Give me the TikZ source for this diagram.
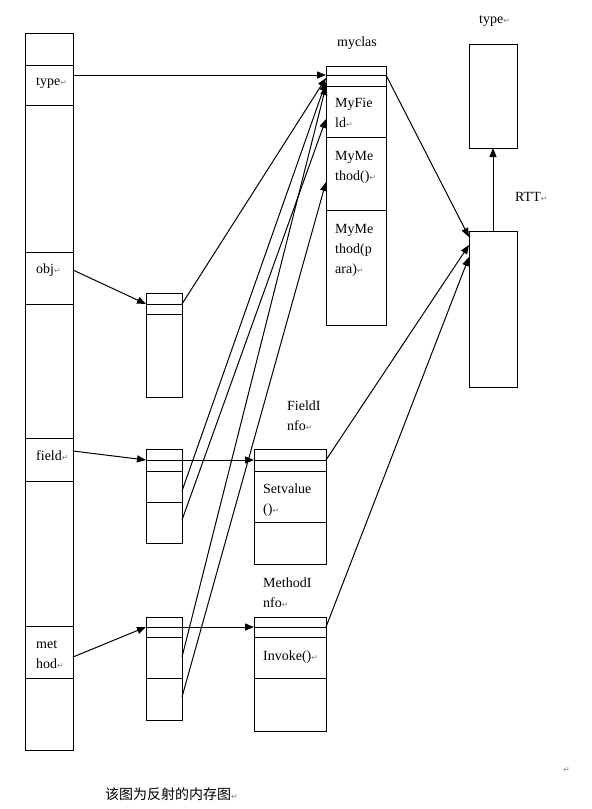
\documentclass[tikz,border=0pt]{standalone}
\usepackage{fontspec}
\setmainfont{Liberation Serif}
\newfontfamily\cjkfont{Noto Sans CJK SC}
\newfontfamily\symfont{DejaVu Sans}
\usetikzlibrary{arrows.meta}
\newcommand\retmark{{\color{gray}\symfont\fontsize{8}{8}\selectfont ↵}}
\begin{document}
\begin{tikzpicture}[x=1pt,y=-1pt,
  box/.style={draw,line width=1pt,anchor=north west,inner sep=0,outer sep=0},
  div/.style={line width=1pt},
  txt/.style={anchor=base west,inner sep=0,font=\fontsize{14}{20}\selectfont},
  arr/.style={line width=1pt,-{Triangle[length=9pt,width=7pt]}},
  ln/.style={line width=1pt}]
\useasboundingbox (0,0) rectangle (592,809);
% boxes
\node[box,minimum width=48pt,minimum height=717pt] (L) at (25,33) {};
\node[box,minimum width=60pt,minimum height=259pt] (M) at (326,66) {};
\node[box,minimum width=48pt,minimum height=104pt] (T) at (469,44) {};
\node[box,minimum width=48pt,minimum height=156pt] (R) at (469,231) {};
\node[box,minimum width=36pt,minimum height=104pt] (O) at (146,293) {};
\node[box,minimum width=36pt,minimum height=94pt] (F) at (146,449) {};
\node[box,minimum width=72pt,minimum height=115pt] (FI) at (254,449) {};
\node[box,minimum width=36pt,minimum height=103pt] (Mb) at (146,617) {};
\node[box,minimum width=72pt,minimum height=114pt] (MI) at (254,617) {};
% dividers
\foreach \y in {65,105,252,304,438,481,626,678} \draw[div] (25,\y) -- (73,\y);
\foreach \y in {75,86,137,210} \draw[div] (326,\y) -- (386,\y);
\foreach \y in {304,314} \draw[div] (146,\y) -- (182,\y);
\foreach \y in {460,471,502} \draw[div] (146,\y) -- (182,\y);
\foreach \y in {460,471,522} \draw[div] (254,\y) -- (326,\y);
\foreach \y in {627,637,678} \draw[div] (146,\y) -- (182,\y);
\foreach \y in {627,637,678} \draw[div] (254,\y) -- (326,\y);
% texts
\node[txt] (ttype) at (36,85) {type\retmark};
\node[txt] (tobj) at (36,273) {obj\retmark};
\node[txt] (tfield) at (36,460) {field\retmark};
\node[txt] (tmet) at (36,648) {met};
\node[txt] (thod) at (36,668) {hod\retmark};
\node[txt] (tmyclas) at (337,46) {myclas};
\node[txt] (tmf1) at (335,107) {MyFie};
\node[txt] (tmf2) at (335,127) {ld\retmark};
\node[txt] (tmm1) at (335,160) {MyMe};
\node[txt] (tmm2) at (335,180) {thod()\retmark};
\node[txt] (tmp1) at (335,233) {MyMe};
\node[txt] (tmp2) at (335,253) {thod(p};
\node[txt] (tmp3) at (335,273) {ara)\retmark};
\node[txt] (ttype2) at (479,23) {type\retmark};
\node[txt] (trtt) at (515,201) {RTT\retmark};
\node[txt] (tfi1) at (287,410) {FieldI};
\node[txt] (tfi2) at (287,430) {nfo\retmark};
\node[txt] (tsv1) at (263,493) {Setvalue};
\node[txt] (tsv2) at (263,513) {()\retmark};
\node[txt] (tmi1) at (263,587) {MethodI};
\node[txt] (tmi2) at (263,607) {nfo\retmark};
\node[txt] (tinv) at (263,660) {Invoke()\retmark};
\node[txt,font=\cjkfont\fontsize{14}{20}\selectfont] (tcap) at (105,799) {该图为反射的内存图\retmark};
\node[txt] (tstray) at (563,772) {\retmark};
% connector end points
\coordinate (a1) at (73,75);   \coordinate (b1) at (326,75);
\coordinate (a2) at (73,270);  \coordinate (b2) at (146,304);
\coordinate (a3) at (73,451);  \coordinate (b3) at (146,460);
\coordinate (a4) at (73,657);  \coordinate (b4) at (146,627);
\coordinate (o1) at (182,304); \coordinate (m1) at (326,78);
\coordinate (f1) at (182,491); \coordinate (m2) at (326,82);
\coordinate (f2) at (182,520); \coordinate (m3) at (326,119);
\coordinate (g1) at (182,657); \coordinate (m4) at (326,86);
\coordinate (g2) at (182,697); \coordinate (m5) at (326,182);
\coordinate (fh) at (182,460); \coordinate (fih) at (254,460);
\coordinate (gh) at (182,627); \coordinate (mih) at (254,627);
\coordinate (mc) at (386,75);  \coordinate (r1) at (469,237);
\coordinate (fic) at (326,460);\coordinate (r2) at (469,245);
\coordinate (mic) at (326,627);\coordinate (r3) at (469,257);
% connectors
\draw[arr] (a1) -- (b1);
\draw[arr] (a2) -- (b2);
\draw[arr] (a3) -- (b3);
\draw[arr] (a4) -- (b4);
\draw[arr] (o1) -- (m1);
\draw[arr] (f1) -- (m2);
\draw[arr] (f2) -- (m3);
\draw[arr] (g1) -- (m4);
\draw[arr] (g2) -- (m5);
\draw[arr] (fh) -- (fih);
\draw[arr] (gh) -- (mih);
\draw[arr] (mc) -- (r1);
\draw[arr] (fic) -- (r2);
\draw[arr] (mic) -- (r3);
\draw[arr] (R.north) -- (T.south);
\end{tikzpicture}
\end{document}
